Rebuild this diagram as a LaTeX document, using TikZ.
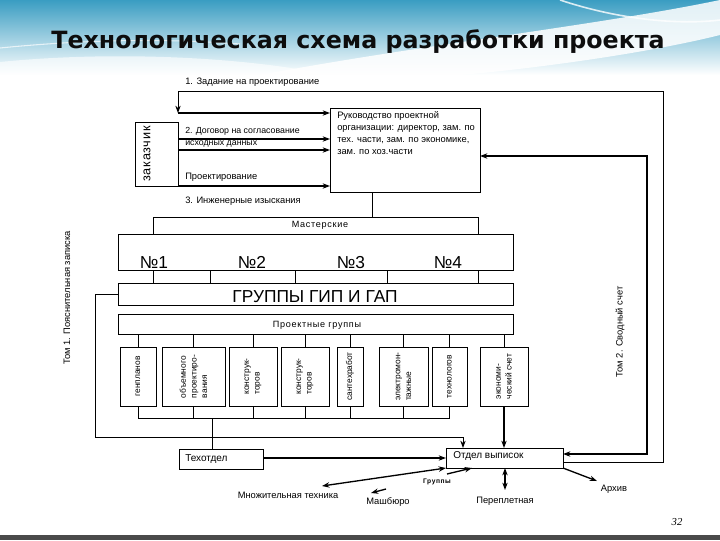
\documentclass[tikz,border=0pt]{standalone}
\usepackage{fontspec}
\setmainfont{Liberation Sans}
\newfontfamily\titlefont{DejaVu Sans}
\newfontfamily\spacedfont[LetterSpace=8]{Liberation Sans}
\newfontfamily\zakfont[LetterSpace=6]{Liberation Sans}
\newfontfamily\pnfont{Liberation Serif}
\usetikzlibrary{arrows.meta,calc}
\definecolor{hdrA}{HTML}{3A9DC2}
\definecolor{hdrB}{HTML}{A9DDEB}
\definecolor{barC}{HTML}{4A4A4A}
\newcommand\mkbox[5]{\node[box,anchor=north west,minimum width={(#4-#2)*0.75pt},minimum height={(#5-#3)*0.75pt}] (#1) at (#2,#3) {};}
\begin{document}
\begin{tikzpicture}[x=0.75pt,y=-0.75pt,
  box/.style={draw,line width=0.6pt,inner sep=0,outer sep=0},
  thinl/.style={line width=0.6pt},
  thickl/.style={line width=1.3pt},
  medl/.style={line width=1pt},
  arr/.style={-{Stealth[length=5.5pt,width=4pt]}},
  darr/.style={{Stealth[length=5.5pt,width=4pt]}-{Stealth[length=5.5pt,width=4pt]}},
  sm/.style={font=\fontsize{7}{8.5}\selectfont,inner sep=0},
  md/.style={font=\fontsize{7.5}{9}\selectfont,inner sep=0},
  big/.style={font=\fontsize{13}{15}\selectfont,inner sep=0,anchor=base},
  gtxt/.style={rotate=90,font=\fontsize{6.3}{8}\selectfont,align=left,inner sep=0}
]
\useasboundingbox (0,0) rectangle (720,540);
% header background
\shade[top color=hdrA, middle color=hdrB, bottom color=white] (0,0) rectangle (720,75);
\fill[white,opacity=0.85] (260,75) .. controls (420,45) and (600,25) .. (720,0) -- (720,35) .. controls (640,55) and (520,70) .. (460,75) -- cycle;
\fill[white,opacity=0.6] (0,62) .. controls (120,50) and (250,58) .. (330,75) -- (0,75) -- cycle;
\draw[white,line width=1.2pt,opacity=0.8] (560,0) .. controls (620,20) and (680,25) .. (720,20);
\draw[white,line width=0.8pt,opacity=0.7] (0,48) .. controls (80,40) and (160,38) .. (240,44);
\fill[barC] (0,535) rectangle (720,540);
% title
\node[font=\titlefont\bfseries\fontsize{17.8}{20}\selectfont, text=black!95] (title) at (358,42) {Технологическая схема разработки проекта};

% boxes
\mkbox{zak}{135}{122}{178}{186}
\mkbox{rk}{330}{108}{480}{192}
\mkbox{mast}{153}{217}{478}{234}
\mkbox{nums}{118}{234}{513}{270}
\mkbox{gip}{118}{283}{513}{305}
\mkbox{pg}{118}{314}{513}{334}
\mkbox{g1}{120}{347}{156}{406}
\mkbox{g2}{162}{347}{225}{406}
\mkbox{g3}{229}{347}{277}{406}
\mkbox{g4}{281}{347}{329}{406}
\mkbox{g5}{337}{347}{363}{406}
\mkbox{g6}{379}{347}{428}{406}
\mkbox{g7}{432}{347}{467}{406}
\mkbox{g8}{480}{347}{528}{406}
\mkbox{tech}{179}{449}{263}{469}
\mkbox{ov}{446}{448}{563}{468}

% texts in boxes
\node[rotate=90,font=\zakfont\fontsize{9.5}{10}\selectfont,inner sep=0] (zakt) at (147,154) {заказчик};
\node[sm,anchor=north west,align=left,font=\fontsize{7}{9}\selectfont] (rkt) at (337,111) {Руководство проектной\\организации: директор, зам. по\\тех. части, зам. по экономике,\\зам. по хоз.части};
\node[sm,font=\spacedfont\fontsize{6.8}{8}\selectfont] (mastt) at (320,225) {Мастерские};
\node[big] (n1) at (154,268) {№1};
\node[big] (n2) at (252,268) {№2};
\node[big] (n3) at (351,268) {№3};
\node[big] (n4) at (448,268) {№4};
\node[big,anchor=center] (gipt) at (315,297) {ГРУППЫ ГИП И ГАП};
\node[sm,font=\spacedfont\fontsize{6.8}{8}\selectfont] (pgt) at (317,325) {Проектные группы};
\node[gtxt] at (g1) {генпланов};
\node[gtxt] at (g2) {объемного\\проектиро-\\вания};
\node[gtxt] at (g3) {конструк-\\торов};
\node[gtxt] at (g4) {конструк-\\торов};
\node[gtxt] at (g5) {сантехработ};
\node[gtxt] at (g6) {электромон-\\тажные};
\node[gtxt] at (g7) {технологов};
\node[gtxt] at (g8) {экономи-\\ческий счет};
\node[md,anchor=west] (techt) at (185,459) {Техотдел};
\node[md,anchor=west] (ovt) at (453,456) {Отдел выписок};

% free labels
\node[sm,anchor=west] (l1) at (185,82) {1. Задание на проектирование};
\node[sm,anchor=west,font=\fontsize{6.6}{8}\selectfont] (l2) at (185,131) {2. Договор на согласование};
\node[sm,anchor=west,font=\fontsize{6.6}{8}\selectfont] (l2b) at (185,144.5) {исходных данных};
\node[sm,anchor=west] (lp) at (185,177) {Проектирование};
\node[sm,anchor=west] (l3) at (185,201) {3. Инженерные изыскания};
\node[sm,rotate=90] (tom1) at (67,298) {Том 1. Пояснительная записка};
\node[sm,rotate=90] (tom2) at (620,332) {Том 2. Сводный счет};
\node[sm,font=\spacedfont\bfseries\fontsize{5}{6}\selectfont] (grp) at (437,482) {Группы};
\node[sm] (mnt) at (288,495) {Множительная техника};
\node[sm] (msb) at (388,502) {Машбюро};
\node[sm] (pp) at (505,501) {Переплетная};
\node[sm] (arh) at (614,489) {Архив};
\node[font=\pnfont\itshape\fontsize{8}{9}\selectfont,inner sep=0] (pn) at (677,522) {32};

% free-end coordinates
\coordinate (c86) at (322,486);
\coordinate (cmsb) at (371,493);
\coordinate (cmsb0) at (386,489);
\coordinate (cgr0) at (447,474);
\coordinate (cpp) at (505,490);
\coordinate (carh) at (597,481);

% connectors
\draw[thinl,arr] (ov.east |- 0,462) -- (663,462) -- (663,91) -- (zak.east |- 0,91) -- (zak.east |- 0,113);
\draw[thickl,arr] (zak.east |- 0,113) -- (rk.west |- 0,113);
\draw[thickl,arr] (zak.east |- 0,139) -- (rk.west |- 0,139);
\draw[thickl,arr] (zak.east |- 0,150) -- (rk.west |- 0,150);
\draw[thickl,arr] (zak.east |- 0,186) -- (rk.west |- 0,186);
\draw[thickl,darr] (rk.east |- 0,156) -- (647,156) -- (647,454) -- (ov.east |- 0,454);
\draw[thinl] (rk.south -| 372,0) -- (mast.north -| 372,0);
\foreach \xx in {153,210,295,387,478}{\draw[thinl] (nums.south -| \xx,0) -- (gip.north -| \xx,0);}
\foreach \g in {g1,g2,g3,g4,g5,g6,g7,g8}{\draw[thinl] (\g.north) -- (pg.south -| \g.north);}
\foreach \g in {g2,g3,g4,g5,g6}{\draw[thinl] (\g.south) -- (\g.south |- 0,418);}
\draw[thinl] (g1.south) -- (g1.south |- 0,418) -- (g7.south |- 0,418) -- (g7.south);
\draw[thinl] (212,418) -- (tech.north -| 212,0);
\draw[thickl,arr] (g8.south) -- (ov.north -| g8.south);
\draw[thinl,arr] (gip.west) -- (95,294) -- (95,437) -- (463,437) -- (ov.north -| 463,0);
\draw[thickl,arr] (tech.east |- 0,458) -- (ov.west |- 0,458);
\draw[medl,darr] (ov.south -| cpp) -- (cpp);
\draw[medl,arr] (ov.south east) -- (carh);
\draw[medl,darr] (c86) -- (ov.south west);
\draw[medl,arr] (cgr0) -- (ov.south -| 472,0);
\draw[medl,arr] (cmsb0) -- (cmsb);
\end{tikzpicture}
\end{document}
